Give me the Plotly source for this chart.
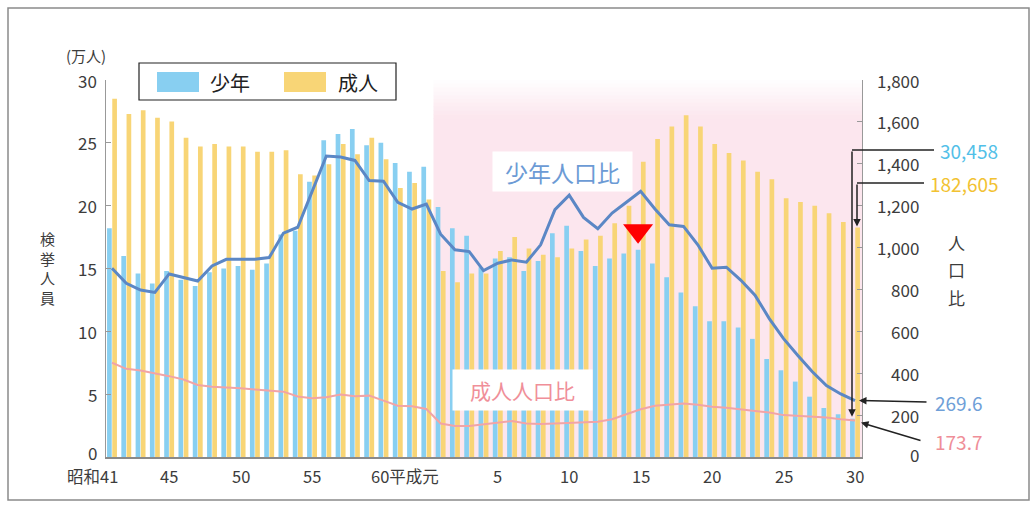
import plotly.graph_objects as go

# ---------------- data ----------------
years = list(range(1966, 2019))
juvenile = [18.2, 16.0, 14.6, 13.8, 14.8, 14.1, 13.6, 14.7, 15.0, 15.2,
            14.9, 15.4, 17.7, 18.0, 21.9, 25.2, 25.7, 26.1, 24.8, 25.0,
            23.4, 22.7, 23.1, 19.9, 18.2, 17.6, 15.1, 15.8, 15.9, 14.8,
            15.6, 17.8, 18.4, 16.4, 15.2, 15.8, 16.2, 16.5, 15.4, 14.3,
            13.1, 12.0, 10.8, 10.8, 10.3, 9.4, 7.8, 6.9, 6.0, 4.8,
            3.9, 3.4, 3.05]
adult = [28.5, 27.3, 27.6, 27.0, 26.7, 25.4, 24.7, 24.9, 24.7, 24.7,
         24.3, 24.3, 24.4, 22.5, 22.4, 23.3, 24.9, 24.1, 25.4, 23.7,
         21.4, 21.8, 20.5, 14.8, 13.9, 14.6, 14.6, 16.4, 17.5, 16.6,
         16.1, 15.9, 16.6, 17.3, 17.6, 18.6, 20.0, 23.5, 25.3, 26.3,
         27.2, 26.3, 24.9, 24.2, 23.6, 22.7, 22.1, 20.6, 20.3, 20.0,
         19.4, 18.7, 18.26]
juvenile_ratio = [901, 829, 797, 786, 874, 858, 840, 912, 944, 944,
                  944, 952, 1069, 1097, 1269, 1437, 1432, 1416, 1320, 1317,
                  1216, 1184, 1208, 1064, 989, 981, 890, 925, 941, 930,
                  1013, 1181, 1250, 1144, 1090, 1165, 1216, 1269, 1184, 1109,
                  1101, 1013, 901, 906, 845, 773, 661, 565, 485, 408,
                  341, 301, 269.6]
adult_ratio = [450, 421, 413, 400, 386, 370, 344, 336, 333, 328,
               322, 317, 312, 289, 280, 285, 298, 290, 293, 269,
               245, 242, 229, 160, 148, 148, 155, 165, 172, 160,
               158, 160, 162, 165, 168, 180, 203, 228, 245, 252,
               256, 250, 240, 235, 228, 220, 212, 200, 196, 195,
               188, 180, 173.7]
tick_years = [1966, 1970, 1975, 1980, 1985, 1993, 1998, 2003, 2008, 2013, 2018]
tick_labels = ["昭和41", "45", "50", "55", "60平成元", "5", "10", "15", "20", "25", "30"]
left_ticks = [0, 5, 10, 15, 20, 25, 30]
right_ticks = [0, 200, 400, 600, 800, 1000, 1200, 1400, 1600, 1800]
heisei_start = 1989
highlight_year = 2003
last_juvenile_count = "30,458"
last_adult_count = "182,605"

# ---------------- layout geometry ----------------
W, H = 1036, 506
L, R, T, B = 106, 862, 80, 457
FIRST_PX, LAST_PX = 112, 855
PPY = (LAST_PX - FIRST_PX) / (years[-1] - years[0])
XMIN = years[0] - (FIRST_PX - L) / PPY
XMAX = years[-1] + (R - LAST_PX) / PPY
BARGAP = 0.27


def px(x):
    return (x - L) / (R - L)


def py(y):
    return (B - y) / (B - T)


def ypix_left(v):
    return B - v / 30 * (B - T)


def ypix_right(v):
    return B - v / 1800 * (B - T)


BLUE = "#88cff1"
YELLOW = "#f8d576"
LINE_BLUE = "#5b87c5"
LINE_PINK = "#f2a4a6"
FONT = "Noto Sans CJK JP"
TXT = "#3c3c3c"


def text_ann(x, y, text, size, color, xanchor="center", xref="paper", yref="paper", **kw):
    d = dict(x=x, y=y, xref=xref, yref=yref, text=text, showarrow=False,
             xanchor=xanchor, yanchor="middle", font=dict(family=FONT, size=size, color=color))
    d.update(kw)
    return d


fig = go.Figure()
fig.add_trace(go.Bar(x=years, y=juvenile, name="少年", marker=dict(color=BLUE, line=dict(width=0)),
                     showlegend=False))
fig.add_trace(go.Bar(x=years, y=adult, name="成人", marker=dict(color=YELLOW, line=dict(width=0)),
                     showlegend=False))
fig.add_trace(go.Scatter(x=years, y=juvenile_ratio, yaxis="y2", mode="lines", name="少年人口比",
                         line=dict(color=LINE_BLUE, width=3), showlegend=False))
fig.add_trace(go.Scatter(x=years, y=adult_ratio, yaxis="y2", mode="lines", name="成人人口比",
                         line=dict(color=LINE_PINK, width=2), showlegend=False))

# red triangle over highlighted juvenile bar
hi = years.index(highlight_year)
blue_offset = -(1 - BARGAP) / 4
fig.add_trace(go.Scatter(x=[highlight_year + blue_offset], y=[juvenile[hi] + 1.5], mode="markers",
                         marker=dict(symbol="triangle-down", size=26, color="#ff0000"),
                         showlegend=False, hoverinfo="skip"))

shapes = []
annotations = []

# pink Heisei background with a fade at top
pink = (252, 230, 238)
shapes.append(dict(type="rect", xref="x", yref="paper", x0=heisei_start - 0.5, x1=XMAX,
                   y0=0, y1=py(118), fillcolor="rgb(%d,%d,%d)" % pink, line=dict(width=0), layer="below"))
steps = 10
for i in range(steps):
    y_top = 80 + i * (38 / steps)
    y_bot = y_top + 38 / steps + 0.5
    f = (i + 0.5) / steps
    c = tuple(int(255 + (p - 255) * f) for p in pink)
    shapes.append(dict(type="rect", xref="x", yref="paper", x0=heisei_start - 0.5, x1=XMAX,
                       y0=py(y_bot), y1=py(y_top), fillcolor="rgb(%d,%d,%d)" % c,
                       line=dict(width=0), layer="below"))

# outer frame
shapes.append(dict(type="rect", xref="paper", yref="paper", x0=px(8), x1=px(1029), y0=py(500), y1=py(8),
                   line=dict(color="#8a8a8a", width=1.5), layer="below"))

# custom legend
shapes.append(dict(type="rect", xref="paper", yref="paper", x0=px(139), x1=px(396), y0=py(100), y1=py(63),
                   fillcolor="white", line=dict(color="#222", width=1.2), layer="above"))
shapes.append(dict(type="rect", xref="paper", yref="paper", x0=px(157), x1=px(199), y0=py(92), y1=py(72),
                   fillcolor=BLUE, line=dict(width=0), layer="above"))
shapes.append(dict(type="rect", xref="paper", yref="paper", x0=px(284), x1=px(326), y0=py(92), y1=py(72),
                   fillcolor=YELLOW, line=dict(width=0), layer="above"))
annotations.append(text_ann(px(208), py(82), "少年", 20, "#222", xanchor="left"))
annotations.append(text_ann(px(336), py(82), "成人", 20, "#222", xanchor="left"))

# axis titles
annotations.append(text_ann(px(86), py(56), "(万人)", 15, TXT))
annotations.append(text_ann(px(47), py(268), "検<br>挙<br>人<br>員", 15, TXT))
for ch, yy in zip("人口比", [242, 269, 297]):
    annotations.append(text_ann(px(957), py(yy), ch, 17, TXT))

# left axis tick labels (right aligned; the bottom one sits a little above its tick)
for v in left_ticks:
    annotations.append(text_ann(px(99), v, f"{v}", 17, TXT, xanchor="right", yref="y",
                                yshift=5 if v == 0 else 0))

# right axis tick labels (right aligned)
for v in right_ticks:
    annotations.append(text_ann(px(921), v, f"{v:,}", 17, TXT, xanchor="right", yref="y2",
                                yshift=3 if v == 0 else 0))

# x tick labels
label_style = {"昭和41": ("right", 8), "60平成元": ("left", -14)}
for yv, lab in zip(tick_years, tick_labels):
    anchor, shift = label_style.get(lab, ("center", 0))
    annotations.append(text_ann(yv, py(476), lab, 16.5, TXT, xanchor=anchor, xref="x", xshift=shift))

# series labels
annotations.append(text_ann(px(562), py(171), "少年人口比", 23, "#6c9bd5",
                            bgcolor="white", width=137, height=37))
annotations.append(text_ann(px(522), py(390), "成人人口比", 21, "#f08f99",
                            bgcolor="white", width=137, height=38))

# end-value call-outs
last = len(years) - 1
xj = LAST_PX - 3
xa = LAST_PX + 2
tip_j = ypix_left(juvenile[last]) - 2
tip_a = ypix_left(adult[last]) - 1
y_j_lbl, y_a_lbl = 150, 183
shapes.append(dict(type="path", xref="paper", yref="paper", layer="above",
                   path=f"M{px(934)},{py(y_j_lbl)} L{px(xj)},{py(y_j_lbl)}",
                   line=dict(color="#222", width=1.5)))
shapes.append(dict(type="path", xref="paper", yref="paper", layer="above",
                   path=f"M{px(924)},{py(y_a_lbl)} L{px(xa)},{py(y_a_lbl)}",
                   line=dict(color="#222", width=1.5)))
annotations.append(dict(x=px(xj), y=py(tip_j), xref="paper", yref="paper", text="", showarrow=True,
                        ax=0, ay=y_j_lbl - tip_j, arrowhead=2, arrowsize=1, arrowwidth=1.5,
                        arrowcolor="#222", standoff=0))
annotations.append(dict(x=px(xa), y=py(tip_a), xref="paper", yref="paper", text="", showarrow=True,
                        ax=0, ay=y_a_lbl - tip_a, arrowhead=2, arrowsize=1, arrowwidth=1.5,
                        arrowcolor="#222", standoff=0))
tip_jr = ypix_right(juvenile_ratio[last])
tip_ar = ypix_right(adult_ratio[last])
annotations.append(dict(x=px(LAST_PX + 4), y=py(tip_jr), xref="paper", yref="paper", text="",
                        showarrow=True, ax=928 - (LAST_PX + 4), ay=402 - tip_jr, arrowhead=2, arrowsize=1,
                        arrowwidth=1.5, arrowcolor="#222", standoff=0))
annotations.append(dict(x=px(LAST_PX + 6), y=py(tip_ar + 2), xref="paper", yref="paper", text="",
                        showarrow=True, ax=922 - (LAST_PX + 6), ay=441 - (tip_ar + 2), arrowhead=2,
                        arrowsize=1, arrowwidth=1.5, arrowcolor="#222", standoff=0))
annotations.append(text_ann(px(938), py(y_j_lbl), last_juvenile_count, 19, "#52bfe8", xanchor="left"))
annotations.append(text_ann(px(928), py(y_a_lbl), last_adult_count, 19, "#f2c232", xanchor="left"))
annotations.append(text_ann(px(933), py(402), f"{juvenile_ratio[last]}", 19, "#6f9fd8", xanchor="left"))
annotations.append(text_ann(px(933), py(441), f"{adult_ratio[last]}", 19, "#ef8e98", xanchor="left"))

fig.update_layout(
    width=W, height=H, autosize=False,
    margin=dict(l=L, r=W - R, t=T, b=H - B, pad=0),
    paper_bgcolor="white", plot_bgcolor="white",
    barmode="group", bargap=BARGAP, bargroupgap=0.1,
    font=dict(family=FONT, size=17, color=TXT),
    xaxis=dict(range=[XMIN, XMAX], showticklabels=False, ticks="", showgrid=False, zeroline=False,
               showline=True, linecolor="#8a8a8a", linewidth=1.5),
    yaxis=dict(range=[0, 30], tickvals=left_ticks, ticks="inside", ticklen=5, tickcolor="#999",
               showline=True, linecolor="#999", linewidth=1.2, showgrid=False, zeroline=False,
               showticklabels=False),
    yaxis2=dict(range=[0, 1800], tickvals=right_ticks, overlaying="y", side="right", ticks="inside",
                ticklen=5, tickcolor="#999", showline=True, linecolor="#999", linewidth=1.2,
                showgrid=False, zeroline=False, showticklabels=False),
    shapes=shapes, annotations=annotations,
)

fig.write_html("out.html", config={"displayModeBar": False},
               post_script="document.body.style.margin='0px';document.body.style.padding='0px';")
